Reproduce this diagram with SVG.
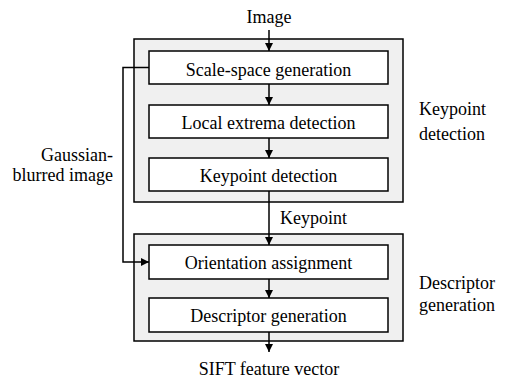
<svg xmlns="http://www.w3.org/2000/svg" width="510" height="380" viewBox="0 0 510 380">
<style>
text{font-family:'Liberation Serif','Times New Roman',serif;font-size:18px;fill:#000}
.outer{fill:#f0f0f0;stroke:#000;stroke-width:1.5}
.inner{fill:#fff;stroke:#000;stroke-width:1.5}
.c{text-anchor:middle}
.e{text-anchor:end}
.ln{fill:none;stroke:#000;stroke-width:1.5}
</style>
<defs>
<marker id="ah" viewBox="0 0 10 10" refX="10" refY="5" markerWidth="8" markerHeight="8" markerUnits="userSpaceOnUse" orient="auto">
<path d="M0,0 L10,5 L0,10 Z" fill="#000"/>
</marker>
</defs>
<g id="group-keypoint">
<rect class="outer" x="134" y="39" width="269" height="163"/>
<text x="419" y="115">Keypoint</text>
<text x="419" y="140">detection</text>
</g>
<g id="group-descriptor">
<rect class="outer" x="134" y="234" width="269" height="107"/>
<text x="419" y="289">Descriptor</text>
<text x="419" y="311">generation</text>
</g>
<g id="scale-space">
<rect class="inner" x="149" y="51" width="239" height="33"/>
<text class="c" x="268.5" y="76">Scale-space generation</text>
</g>
<g id="local-extrema">
<rect class="inner" x="149" y="105" width="239" height="33"/>
<text class="c" x="268.5" y="129">Local extrema detection</text>
</g>
<g id="keypoint-detection">
<rect class="inner" x="149" y="158" width="239" height="33"/>
<text class="c" x="268.5" y="182">Keypoint detection</text>
</g>
<g id="orientation">
<rect class="inner" x="149" y="245" width="239" height="34"/>
<text class="c" x="268.5" y="269">Orientation assignment</text>
</g>
<g id="descriptor">
<rect class="inner" x="149" y="298" width="239" height="34"/>
<text class="c" x="268.5" y="322">Descriptor generation</text>
</g>
<g id="labels">
<text class="c" x="269" y="23">Image</text>
<text x="280" y="224">Keypoint</text>
<text class="e" x="113" y="161">Gaussian-</text>
<text class="e" x="113" y="181">blurred image</text>
<text class="c" x="269" y="375">SIFT feature vector</text>
</g>
<g id="connectors">
<line class="ln" x1="269" y1="30" x2="269" y2="51" marker-end="url(#ah)"/>
<line class="ln" x1="269" y1="84" x2="269" y2="105" marker-end="url(#ah)"/>
<line class="ln" x1="269" y1="138" x2="269" y2="158" marker-end="url(#ah)"/>
<line class="ln" x1="269" y1="191" x2="269" y2="245" marker-end="url(#ah)"/>
<line class="ln" x1="269" y1="279" x2="269" y2="298" marker-end="url(#ah)"/>
<line class="ln" x1="269" y1="332" x2="269" y2="352" marker-end="url(#ah)"/>
<polyline class="ln" points="149,67.5 123,67.5 123,262 149,262" marker-end="url(#ah)"/>
</g>
</svg>
